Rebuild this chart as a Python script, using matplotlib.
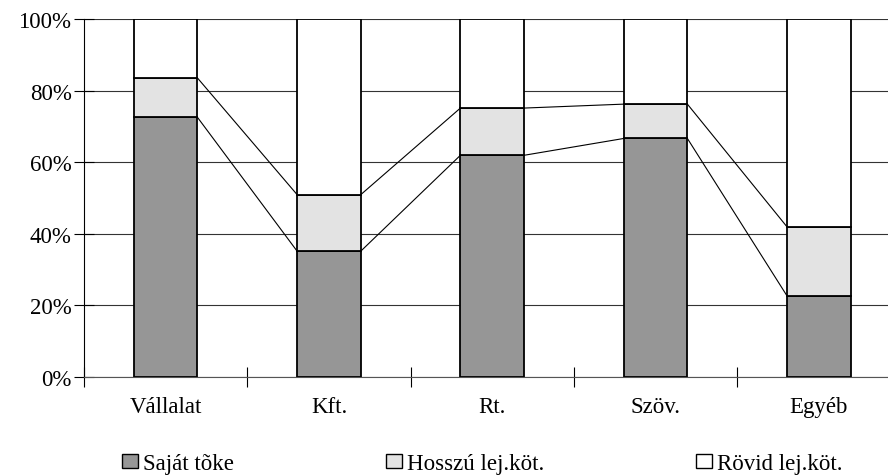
import numpy as np
import matplotlib.pyplot as plt
from matplotlib.patches import Patch

# adatok (százalék)
kategoriak = ["Vállalat", "Kft.", "Rt.", "Szöv.", "Egyéb"]
sajat_toke = [72.5, 35.1, 61.9, 66.6, 22.6]
hosszu = [11.0, 15.8, 13.2, 9.6, 19.3]
rovid = [16.5, 49.1, 24.9, 23.8, 58.1]
y_ticks = [0, 20, 40, 60, 80, 100]
y_labels = ["0%", "20%", "40%", "60%", "80%", "100%"]

plt.rcParams['font.family'] = ['Liberation Serif', 'DejaVu Serif']

fig = plt.figure(figsize=(8.88, 4.77), dpi=100)
# a diagram jobb széle kilóg a képből, mint az eredetin
ax = fig.add_axes([84 / 888, (477 - 377.7) / 477, 816.5 / 888, 357.7 / 477])

x = np.arange(len(kategoriak))
w = 0.39
s1 = np.array(sajat_toke)
s2 = s1 + np.array(hosszu)

ax.bar(x, sajat_toke, w, color='#969696', edgecolor='black', lw=1.3, zorder=3)
ax.bar(x, hosszu, w, bottom=s1, color='#e3e3e3', edgecolor='black', lw=1.3, zorder=3)
ax.bar(x, rovid, w, bottom=s2, color='white', edgecolor='black', lw=1.3, zorder=3)

# összekötő vonalak a sávok között
for cum in (s1, s2):
    for i in range(len(x) - 1):
        ax.plot([x[i] + w / 2, x[i + 1] - w / 2], [cum[i], cum[i + 1]],
                color='black', lw=0.8, zorder=4)

ax.set_xlim(-0.5, len(x) - 0.5)
ax.set_ylim(0, 100)
ax.set_yticks(y_ticks)
ax.set_yticklabels(y_labels, fontsize=16.5)
ax.yaxis.grid(True, color='#333333', lw=0.8, zorder=0)

ax.set_xticks(np.arange(len(x) + 1) - 0.5)
ax.set_xticklabels([])
ax.set_xticks(x, minor=True)
ax.set_xticklabels(kategoriak, minor=True, fontsize=16.5)
ax.tick_params(axis='x', which='major', direction='inout', length=14, width=0.8)
ax.tick_params(axis='x', which='minor', length=0, pad=14)
ax.tick_params(axis='y', direction='inout', length=14, width=0.8, pad=2)

for side in ('top', 'right'):
    ax.spines[side].set_visible(False)
ax.spines['left'].set_linewidth(0.8)
ax.spines['bottom'].set_color('#555555')
ax.spines['bottom'].set_linewidth(0.8)

handles = [Patch(facecolor='#969696', edgecolor='black', label='Saját tõke'),
           Patch(facecolor='#e3e3e3', edgecolor='black', label='Hosszú lej.köt.'),
           Patch(facecolor='white', edgecolor='black', label='Rövid lej.köt.')]
fig.legend(handles=handles, loc='center left', bbox_to_anchor=(122 / 888, 1 - 465 / 477),
           ncol=3, frameon=False, fontsize=16.5, handlelength=0.7, handleheight=0.55,
           handletextpad=0.2, columnspacing=6.65, borderpad=0, borderaxespad=0)

fig.savefig("out.png", dpi=100)
